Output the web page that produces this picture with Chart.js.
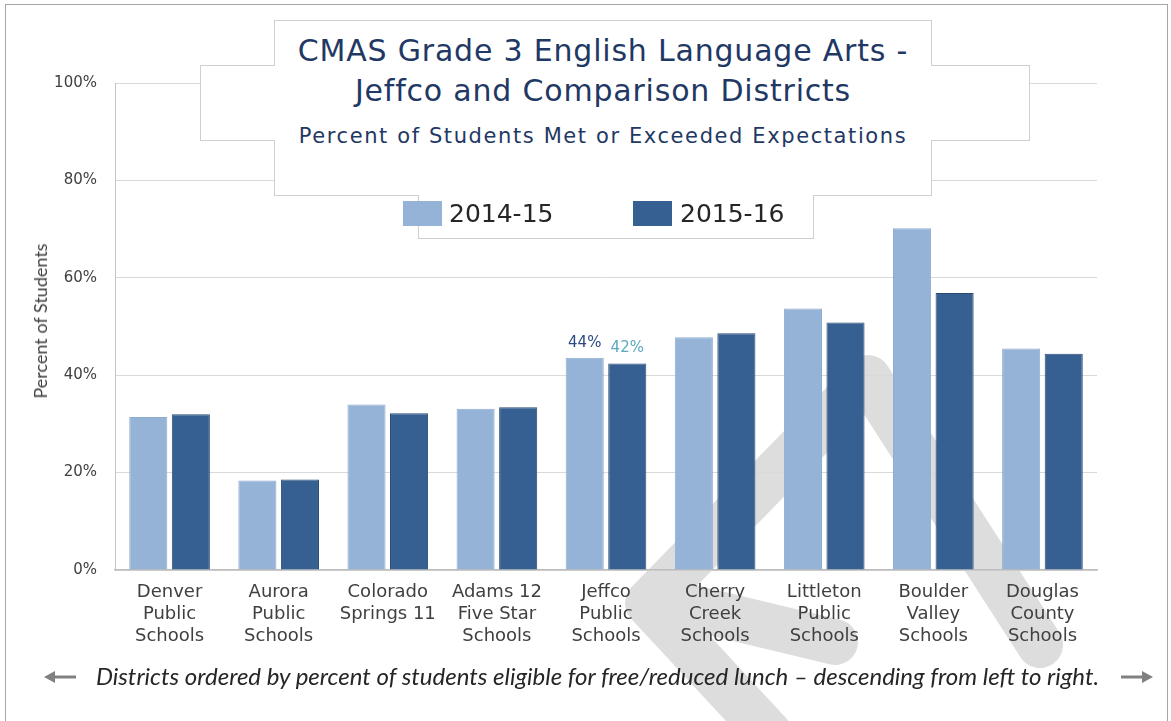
<!DOCTYPE html>
<html><head><meta charset="utf-8">
<script src="https://cdn.jsdelivr.net/npm/chart.js@4.4.1/dist/chart.umd.min.js"></script>
<style>
html,body{margin:0;padding:0;background:#fff;}
body{width:1171px;height:721px;overflow:hidden;position:relative;}
#c{position:absolute;left:0;top:0;}
.bx{position:absolute;box-sizing:border-box;border:1px solid #cfcfcf;background:#fff;}
.fill{position:absolute;background:#fff;}
.t{position:absolute;white-space:nowrap;}
svg.arrow{position:absolute;}
</style></head><body>
<canvas id="c" width="1171" height="721"></canvas>
<div style="position:absolute;left:5px;top:4px;width:1163px;height:800px;border:1px solid #a6a6a6;box-sizing:border-box;"></div>

<!-- title / legend boxes (merged outline) -->
<div class="bx" style="left:274px;top:20px;width:658px;height:176px;"></div>
<div class="bx" style="left:200px;top:65px;width:830px;height:76px;"></div>
<div class="bx" style="left:418px;top:196px;width:396px;height:43px;"></div>
<div class="fill" style="left:275px;top:21px;width:656px;height:174px;"></div>
<div class="fill" style="left:201px;top:66px;width:828px;height:74px;"></div>
<div class="fill" style="left:419px;top:195px;width:394px;height:43px;"></div>

<div class="t" id="title1" style="left:274px;width:658px;top:31px;text-align:center;font:30px 'DejaVu Sans';line-height:40px;letter-spacing:0.8px;color:#1f3864;">CMAS Grade 3 English Language Arts -</div>
<div class="t" id="title2" style="left:274px;width:658px;top:71px;text-align:center;font:30px 'DejaVu Sans';line-height:40px;letter-spacing:0.8px;color:#1f3864;">Jeffco and Comparison Districts</div>
<div class="t" id="subtitle" style="left:274px;width:658px;top:121px;text-align:center;font:21px 'DejaVu Sans';line-height:30px;letter-spacing:1.6px;color:#1f3864;">Percent of Students Met or Exceeded Expectations</div>

<div id="legend"></div>

<div class="t" style="left:40px;top:321px;transform:translate(-50%,-50%) rotate(-90deg);font:18px Lato;color:#404040;">Percent of Students</div>

<svg class="arrow" style="left:40px;top:667px;" width="40" height="20" viewBox="0 0 40 20">
  <line x1="12" y1="10" x2="36" y2="10" stroke="#808080" stroke-width="3"/>
  <polygon points="4,10 15,4 15,16" fill="#808080"/>
</svg>
<svg class="arrow" style="left:1117px;top:667px;" width="40" height="20" viewBox="0 0 40 20">
  <line x1="4" y1="10" x2="28" y2="10" stroke="#808080" stroke-width="3"/>
  <polygon points="36,10 25,4 25,16" fill="#808080"/>
</svg>
<div class="t" style="left:80px;width:1035px;top:659px;text-align:center;font:italic 24px Lato;line-height:34px;color:#262626;">Districts ordered by percent of students eligible for free/reduced lunch – descending from left to right.</div>

<script>
const categories = [
  ['Denver','Public','Schools'],
  ['Aurora','Public','Schools'],
  ['Colorado','Springs 11'],
  ['Adams 12','Five Star','Schools'],
  ['Jeffco','Public','Schools'],
  ['Cherry','Creek','Schools'],
  ['Littleton','Public','Schools'],
  ['Boulder','Valley','Schools'],
  ['Douglas','County','Schools']
];
const values2014_15 = [31.4, 18.4, 34.0, 33.1, 43.6, 47.8, 53.7, 70.2, 45.5];
const values2015_16 = [32.0, 18.6, 32.2, 33.4, 42.4, 48.6, 50.8, 56.9, 44.4];
const seriesNames = ['2014-15', '2015-16'];
const seriesColors = ['#95b3d7', '#376092'];
const seriesBorders = ['#8eacd0', '#2a4b73'];
const labelColors = ['#2e4a84', '#5ea8c0'];
const yTickValues = [0, 20, 40, 60, 80, 100];
const labeledCategory = 4; // Jeffco

// legend (HTML)
const legendPos = [{sq:403, tx:449}, {sq:633, tx:680}];
const lg = document.getElementById('legend');
seriesNames.forEach((n, i) => {
  const s = document.createElement('div');
  s.style.cssText = `position:absolute;left:${legendPos[i].sq}px;top:201px;width:39px;height:25px;background:${seriesColors[i]};`;
  lg.appendChild(s);
  const t = document.createElement('div');
  t.className = 't';
  t.style.cssText = `left:${legendPos[i].tx}px;top:199px;font:25px 'DejaVu Sans';line-height:30px;color:#262626;`;
  t.textContent = n;
  lg.appendChild(t);
});

const bgPlugin = {
  id: 'bg',
  beforeDraw(chart) {
    const ctx = chart.ctx;
    ctx.save();
    ctx.fillStyle = '#ffffff';
    ctx.fillRect(0, 0, chart.width, chart.height);
    // light gray watermark strokes
    ctx.strokeStyle = '#dddddd';
    ctx.lineWidth = 46;
    ctx.lineJoin = 'round';
    ctx.lineCap = 'round';
    ctx.beginPath();
    ctx.moveTo(775, 740);
    ctx.lineTo(648, 603);
    ctx.lineTo(868, 378);
    ctx.lineTo(1040, 645);
    ctx.stroke();
    ctx.beginPath();
    ctx.moveTo(660, 600);
    ctx.lineTo(835, 642);
    ctx.stroke();
    ctx.restore();
  }
};

const labelPlugin = {
  id: 'barLabels',
  afterDatasetsDraw(chart) {
    const ctx = chart.ctx;
    ctx.save();
    ctx.font = "15px 'DejaVu Sans'";
    ctx.textAlign = 'center';
    ctx.textBaseline = 'middle';
    chart.data.datasets.forEach((ds, i) => {
      const el = chart.getDatasetMeta(i).data[labeledCategory];
      ctx.fillStyle = labelColors[i];
      ctx.fillText(Math.round(ds.data[labeledCategory]) + '%', el.x, el.y - 15);
    });
    ctx.restore();
  }
};

new Chart(document.getElementById('c'), {
  type: 'bar',
  data: {
    labels: categories,
    datasets: [
      {label: seriesNames[0], data: values2014_15, backgroundColor: seriesColors[0], borderColor: seriesBorders[0], borderWidth: 1, categoryPercentage: 0.78, barPercentage: 0.895},
      {label: seriesNames[1], data: values2015_16, backgroundColor: seriesColors[1], borderColor: seriesBorders[1], borderWidth: 1, categoryPercentage: 0.78, barPercentage: 0.895}
    ]
  },
  options: {
    responsive: false,
    animation: false,
    devicePixelRatio: 1,
    layout: {padding: {left: 0, top: 83, right: 74, bottom: 0}},
    plugins: {legend: {display: false}, title: {display: false}, tooltip: {enabled: false}},
    scales: {
      x: {
        grid: {display: false, drawTicks: false},
        border: {display: true, color: '#bdbdbd', width: 1.5},
        ticks: {font: {family: 'DejaVu Sans', size: 18, lineHeight: 1.2}, color: '#404040', padding: 12, maxRotation: 0, autoSkip: false},
        afterFit(s) { s.height = 151; }
      },
      y: {
        min: 0, max: 100,
        afterBuildTicks(s) { s.ticks = yTickValues.map(v => ({value: v})); },
        grid: {color: '#d9d9d9', drawTicks: false},
        border: {display: true, color: '#c4c4c4', width: 1},
        ticks: {font: {family: 'DejaVu Sans', size: 15}, color: '#404040', padding: 18, callback: v => v + '%'},
        afterFit(s) { s.width = 115; }
      }
    }
  },
  plugins: [bgPlugin, labelPlugin]
});
</script>
</body></html>
